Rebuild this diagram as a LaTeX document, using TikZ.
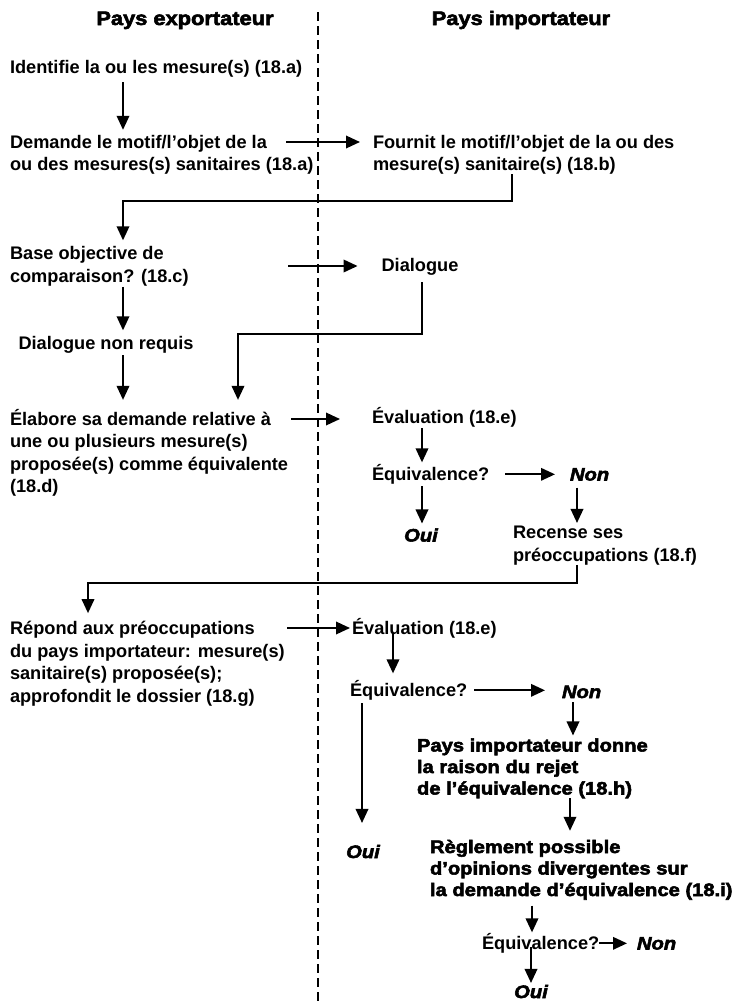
\documentclass[tikz,border=0pt]{standalone}
\usepackage{fontspec}
\setmainfont{Liberation Sans}
\newfontfamily\heavyfont{Liberation Sans}[BoldFeatures={FakeBold=3,FakeStretch=1.12},BoldItalicFeatures={FakeBold=3,FakeStretch=1.12}]
\usetikzlibrary{arrows.meta}

\begin{document}
\begin{tikzpicture}[x=1pt,y=-1pt,
    every node/.style={inner sep=0pt, outer sep=0pt, align=left, anchor=base west, font=\bfseries\fontsize{18.2}{22.5}\selectfont},
    head/.style={anchor=base, font=\heavyfont\bfseries\fontsize{19.5}{22}\selectfont},
    heavy/.style={font=\heavyfont\bfseries\fontsize{18}{21.5}\selectfont},
    answer/.style={font=\heavyfont\bfseries\itshape\fontsize{18}{21.5}\selectfont},
    flow/.style={-{Triangle[length=14pt,width=12.5pt]}, line width=1.9pt},
    divider/.style={line width=1.2pt, dash pattern=on 9pt off 5pt}]
    \useasboundingbox (0,0) rectangle (737,1001);
    \node[head] (exp) at (185,25) {Pays exportateur};
    \node[head] (imp) at (521,25) {Pays importateur};
    \draw[divider] (318,12) -- (318,1001);
    \coordinate (xa) at (123,0);
    \node (ident) at (10,73.5) {Identifie la ou les mesure(s) (18.a)};
    \node (demande) at (10,170.5) {Demande le motif/l’objet de la\\ou des mesures(s) sanitaires (18.a)};
    \node (fournit) at (373,170.5) {Fournit le motif/l’objet de la ou des\\mesure(s) sanitaire(s) (18.b)};
    \node (base) at (10,282) {Base objective de\\comparaison? (18.c)};
    \node[anchor=base] (dialogue) at (420,271.5) {Dialogue};
    \node[anchor=base] (nonreq) at (106,349.5) {Dialogue non requis};
    \node (elabore) at (10,492.5) {Élabore sa demande relative à\\une ou plusieurs mesure(s)\\proposée(s) comme équivalente\\(18.d)};
    \node (eval1) at (372,423.5) {Évaluation (18.e)};
    \node (equiv1) at (372,480.5) {Équivalence?};
    \node[answer] (non1) at (570,480.5) {Non};
    \node[answer, anchor=base] (oui1) at (421,541.5) {Oui};
    \node (recense) at (513,561) {Recense ses\\préoccupations (18.f)};
    \node (repond) at (10,702) {Répond aux préoccupations\\du pays importateur: mesure(s)\\sanitaire(s) proposée(s);\\approfondit le dossier (18.g)};
    \node (eval2) at (352,634.5) {Évaluation (18.e)};
    \node (equiv2) at (350,696.5) {Équivalence?};
    \node[answer] (non2) at (562,698) {Non};
    \node[answer, anchor=base] (oui2) at (363,858) {Oui};
    \node[heavy] (rejet) at (417,794.5) {Pays importateur donne\\la raison du rejet\\de l’équivalence (18.h)};
    \node[heavy] (reglement) at (430,896) {Règlement possible\\d’opinions divergentes sur\\la demande d’équivalence (18.i)};
    \node (equiv3) at (482,949.5) {Équivalence?};
    \node[answer] (non3) at (637,949.5) {Non};
    \node[answer, anchor=base] (oui3) at (531,998) {Oui};
    \draw[flow, shorten <=5pt, shorten >=5pt] (ident.south -| xa) -- (demande.north -| xa);
    \coordinate (h1) at (286,142);
    \draw[flow, shorten >=13pt] (h1) -- (h1 -| fournit.west);
    \draw[flow, shorten >=6pt] (fournit.south -| 512,0) -- ++(0,27) -| (base.north -| xa);
    \coordinate (h2) at (288,266);
    \draw[flow, shorten >=24pt] (h2) -- (h2 -| dialogue.west);
    \draw[flow, shorten <=1pt, shorten >=6pt] (base.south -| xa) -- (nonreq.north -| xa);
    \draw[flow, shorten <=7pt, shorten >=9pt] (dialogue.south -| 422,0) -- ++(0,59) -| (elabore.north -| 238,0);
    \draw[flow, shorten <=2pt, shorten >=9pt] (nonreq.south -| xa) -- (elabore.north -| xa);
    \coordinate (h3) at (291,419);
    \draw[flow, shorten >=32pt] (h3) -- (h3 -| eval1.west);
    \draw[flow, shorten <=1pt, shorten >=2pt] (eval1.south -| 422,0) -- (equiv1.north -| 422,0);
    \draw[flow, shorten <=16pt, shorten >=15pt] (equiv1.east) -- (equiv1.east -| non1.west);
    \draw[flow, shorten <=2pt, shorten >=5pt] (equiv1.south -| 422,0) -- (oui1.north -| 422,0);
    \draw[flow, shorten <=7pt, shorten >=3pt] (non1.south -| 577,0) -- (recense.north -| 577,0);
    \draw[flow, shorten >=8pt] (recense.south -| 577,0) -- ++(0,18) -| (repond.north -| 88,0);
    \coordinate (h4) at (287,628);
    \draw[flow, shorten >=2pt] (h4) -- (h4 -| eval2.west);
    \draw[flow, shorten <=-5pt, shorten >=7pt] (eval2.south -| 393,0) -- (equiv2.north -| 393,0);
    \draw[flow, shorten <=7pt, shorten >=17pt] (equiv2.east) -- (equiv2.east -| non2.west);
    \draw[flow, shorten <=3pt, shorten >=22pt] (equiv2.south -| 362,0) -- (oui2.north -| 362,0);
    \draw[flow, shorten <=4pt, shorten >=3pt] (non2.south -| 573,0) -- (rejet.north -| 573,0);
    \draw[flow, shorten >=9pt] (rejet.south -| 570,0) -- (reglement.north -| 570,0);
    \draw[flow, shorten <=6pt, shorten >=1pt] (reglement.south -| 532,0) -- (equiv3.north -| 532,0);
    \draw[flow, shorten >=10pt] (equiv3.east) -- (equiv3.east -| non3.west);
    \draw[flow, shorten <=-6pt, shorten >=2pt] (equiv3.south -| 531,0) -- (oui3.north -| 531,0);
\end{tikzpicture}
\end{document}
